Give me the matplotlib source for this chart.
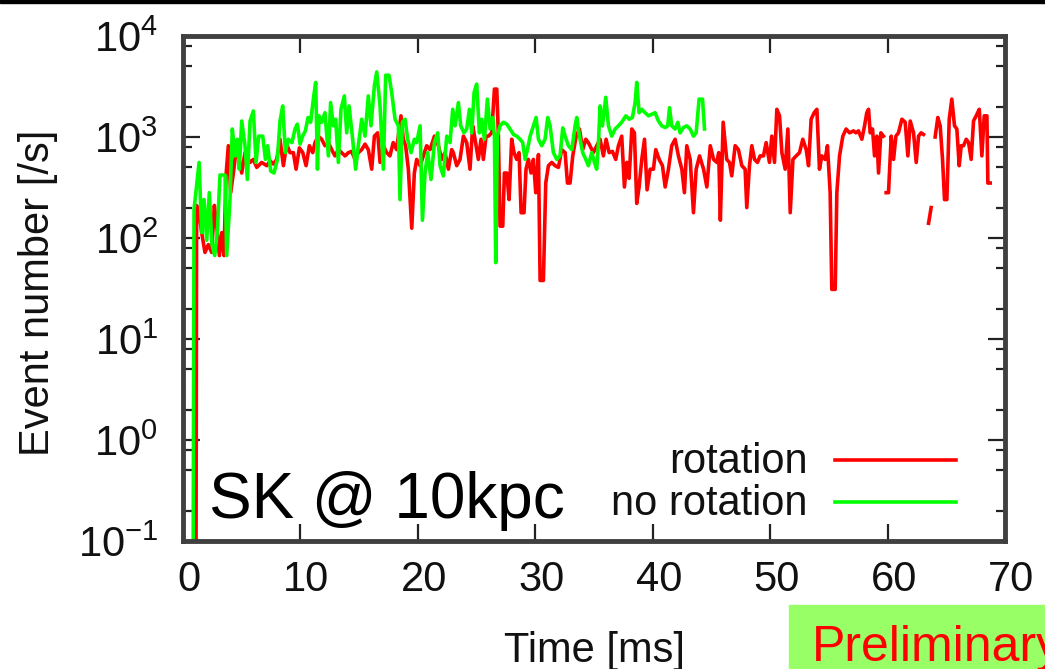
import matplotlib
matplotlib.use('Agg')
import matplotlib.pyplot as plt
import matplotlib.transforms as mtransforms
from matplotlib.patches import Rectangle
from matplotlib.ticker import LogLocator, NullFormatter

nan = float('nan')

# time [ms] / event number [/s]
t_rot = [1.1, 1.16, 1.39, 1.59, 1.87, 2.16, 2.44, 2.67, 2.87, 3.1, 3.3, 3.49, 3.66, 3.86, 4.06, 4.29,
         4.57, 5.0, 5.28, 5.71, 5.99, 6.28, 6.7, 7.13, 7.42, 7.7, 7.98, 8.26, 8.55, 8.83, 9.11, 9.4,
         9.63, 9.91, 10.2, 10.48, 10.76, 11.05, 11.24, 11.52, 11.81, 12.09, 12.38, 12.66, 12.94, 13.23,
         13.51, 13.8, 14.08, 14.36, 14.65, 14.93, 15.22, 15.5, 15.78, 16.07, 16.3, 16.58, 16.78, 17.06,
         17.34, 17.62, 17.9, 18.19, 18.56, 18.76, 18.96, 19.19, 19.48, 19.7, 19.9, 20.19, 20.47, 20.75,
         21.04, 21.41, 21.75, 22.03, 22.31, 22.6, 22.88, 23.02, 23.31, 23.59, 23.88, 24.16, 24.44, 24.67,
         24.87, 25.15, 25.38, 25.58, 25.81, 26.01, 26.29, 26.52, 26.72, 26.86, 27.0, 27.23, 27.37, 27.57,
         27.77, 27.99, 28.19, 28.42, 28.62, 28.79, 29.04, 29.21, 29.41, 29.64, 29.84, 30.04, 30.27, 30.41,
         30.69, 30.89, 31.12, 31.4, 31.69, 31.97, 32.25, 32.54, 32.74, 32.96, 33.19, 33.48, 33.76, 34.04,
         34.3, 34.52, 34.95, 35.23, 35.52, 35.8, 36.03, 36.29, 36.57, 36.85, 37.08, 37.36, 37.59, 37.79,
         37.99, 38.22, 38.44, 38.64, 38.84, 39.07, 39.3, 39.52, 39.78, 40.06, 40.26, 40.55, 40.83, 41.06,
         41.34, 41.62, 41.91, 42.19, 42.48, 42.7, 42.9, 43.19, 43.47, 43.7, 43.99, 44.33, 44.61, 44.9,
         45.18, 45.46, 45.62, 45.76, 46.0, 46.3, 46.54, 46.73, 47.02, 47.3, 47.59, 47.87, 48.01, 48.24,
         48.44, 48.67, 48.92, 49.15, 49.43, 49.66, 49.94, 50.14, 50.37, 50.57, 50.8, 51.0, 51.28, 51.51,
         51.71, 51.94, 52.22, 52.5, 52.78, 53.07, 53.27, 53.49, 53.75, 53.98, 54.2, 54.4, 54.68, 54.88,
         55.11, 55.25, 55.54, 55.68, 55.91, 56.19, 56.47, 56.76, 57.1, 57.3, 57.52, 57.81, 58.04, 58.23,
         58.38, 58.52, 58.72, 58.89, 59.09, 59.23, 59.43, 59.65, 59.76, 59.88, 60.08, 60.31, 60.51, 60.71,
         60.93, 61.22, 61.5, 61.73, 61.93, 62.21, 62.44, 62.64, 62.86, 63.06, 63.25, 63.49, 63.71, 63.85,
         64.05, 64.28, 64.48, 64.68, 64.85, 65.05, 65.25, 65.47, 65.7, 65.9, 66.1, 66.27, 66.47, 66.7,
         66.9, 67.12, 67.32, 67.61, 67.81, 68.03, 68.23, 68.46, 68.54, 68.74]
n_rot = [0.01, 210, 170, 113, 72, 86, 72, 210, 131, 67, 113, 67, 412, 820, 281, 440,
         820, 440, 700, 560, 600, 500, 560, 520, 580, 540, 600, 950, 520, 850, 700, 700,
         480, 780, 700, 520, 820, 700, 880, 1020, 950, 820, 880, 750, 650, 750,
         700, 650, 700, 720, 600, 700, 750, 850, 750, 480, 1020, 1100, 560, 820,
         700, 650, 880, 750, 1620, 950, 820, 480, 125, 440, 600, 520, 650, 820,
         750, 1020, 820, 600, 700, 480, 750, 700, 520, 600, 1020, 880, 480, 1290,
         950, 600, 950, 600, 1020, 1020, 1100, 2980, 2980, 1020, 131, 131, 440, 440,
         240, 950, 700, 600, 700, 178, 178, 480, 600, 440, 600, 281, 670, 38,
         38, 350, 520, 560, 520, 500, 750, 700, 350, 350, 650, 1020, 1200, 750,
         950, 880, 700, 820, 950, 650, 950, 700, 720, 600, 820, 1020, 320, 560,
         390, 1200, 1100, 220, 320, 600, 950, 300, 480, 480, 750, 600, 520, 320,
         480, 820, 950, 650, 480, 281, 820, 600, 178, 480, 650, 480, 320, 820,
         600, 560, 700, 150, 1400, 600, 560, 412, 820, 750, 520, 480, 200, 520,
         820, 600, 560, 650, 650, 880, 560, 1020, 560, 1880, 1620, 700, 480, 1200,
         178, 600, 650, 700, 950, 750, 520, 1500, 1740, 1880, 480, 650, 600, 820,
         281, 31, 31, 281, 650, 1020, 1200, 1100, 1150, 1100, 1150, 950, 1290, 1740,
         1880, 1100, 1200, 650, 1020, 440, 1100, 1020, nan, 281, 281, 1020, 600, 1020,
         1100, 1500, 1400, 650, 1440, 1100, 560, 1020, 1100, 1060, nan, 140, 200, nan,
         1000, 1560, 1290, 600, 240, 240, 1500, 2370, 1290, 1200, 520, 820, 820, 950,
         880, 600, 1440, 1680, 1880, 650, 1620, 1620, 350, 350]

t_norot = [0.85, 0.94, 1.37, 1.59, 1.79, 2.02, 2.24, 2.47, 2.7, 2.92, 3.15, 3.58, 3.72, 4.0, 4.2,
           4.43, 4.63, 4.8, 5.0, 5.28, 5.48, 5.71, 5.99, 6.22, 6.45, 6.79, 7.02, 7.21, 7.47, 7.75,
           8.04, 8.26, 8.49, 8.72, 8.97, 9.28, 9.54, 9.74, 9.97, 10.19, 10.42, 10.65, 10.87, 11.1,
           11.3, 11.45, 11.58, 11.81, 12.09, 12.38, 12.57, 12.8, 13.0, 13.23, 13.45, 13.74, 13.94,
           14.14, 14.42, 14.7, 14.93, 15.22, 15.5, 15.78, 16.01, 16.3, 16.5, 16.78, 17.06, 17.26,
           17.54, 17.77, 18.06, 18.34, 18.48, 18.68, 18.91, 19.13, 19.42, 19.7, 19.9, 20.19, 20.39,
           20.61, 20.84, 21.12, 21.41, 21.69, 21.89, 22.17, 22.46, 22.74, 22.97, 23.17, 23.45, 23.65,
           23.93, 24.16, 24.39, 24.59, 24.79, 25.01, 25.24, 25.44, 25.67, 25.92, 26.15, 26.38, 26.52,
           26.63, 26.77, 27.0, 27.28, 27.57, 27.85, 28.14, 28.42, 28.7, 28.93, 29.13, 29.33, 29.56,
           29.84, 30.07, 30.27, 30.55, 30.83, 31.06, 31.26, 31.54, 31.83, 32.11, 32.34, 32.54, 32.82,
           33.11, 33.39, 33.53, 33.76, 34.04, 34.3, 34.52, 34.81, 35.04, 35.23, 35.38, 35.52, 35.72,
           36.0, 36.23, 36.51, 36.8, 37.08, 37.36, 37.71, 37.99, 38.27, 38.5, 38.64, 38.84, 39.07,
           39.35, 39.64, 39.92, 40.2, 40.49, 40.77, 41.06, 41.28, 41.43, 41.62, 41.91, 42.14, 42.33,
           42.62, 42.9, 43.19, 43.47, 43.7, 43.95, 44.24, 44.41]
n_norot = [0.01, 192, 560, 113, 240, 95, 281, 86, 67, 113, 420, 420, 67, 240, 1200,
           650, 950, 480, 1440, 820, 380, 1440, 1810, 560, 1020, 1020, 600, 820, 460, 440,
           600, 1440, 2030, 700, 950, 880, 1200, 1340, 850, 1020, 1150, 1560, 1400, 2370,
           3470, 480, 1620, 1400, 1740, 650, 2190, 1290, 1500, 560, 1880, 2550, 1100,
           2030, 1020, 480, 820, 1500, 1020, 2550, 1290, 3240, 4410, 2030, 480, 4090,
           4090, 2760, 1500, 1290, 240, 1400, 1500, 950, 700, 950, 880, 1290, 150,
           440, 700, 380, 880, 1100, 520, 412, 1020, 880, 1880, 1290, 2190, 1290,
           1100, 1200, 1880, 1100, 2760, 3340, 1100, 1500, 950, 2370, 1200, 1560, 1020,
           57, 1020, 1290, 1400, 1340, 1200, 1060, 1020, 950, 880, 600, 750, 1020,
           1290, 1560, 950, 820, 950, 1560, 1290, 700, 600, 650, 1230, 1020, 820,
           750, 1290, 1560, 1020, 700, 600, 520, 700, 560, 480, 880, 2030, 1290,
           2470, 1290, 1020, 1200, 1290, 1400, 1620, 1500, 1560, 2190, 3470, 1740, 1880,
           1740, 1620, 1680, 1740, 1440, 1290, 1240, 1290, 1950, 1290, 1200, 1400, 1100,
           1240, 1290, 1200, 1020, 1100, 2370, 2370, 1200]

x_ticks = [0, 10, 20, 30, 40, 50, 60, 70]

plt.rcParams['font.family'] = 'Liberation Sans'
plt.rcParams['mathtext.default'] = 'regular'

W, H = 1045, 669
fig = plt.figure(figsize=(W / 100, H / 100), dpi=100)
ax = fig.add_axes([183 / W, 1 - 541 / H, 822 / W, 505 / H])

ax.plot(t_rot, n_rot, color='#ff0000', lw=2.6, label='rotation')
ax.plot(t_norot, n_norot, color='#00ff00', lw=2.6, label='no rotation')

ax.set_yscale('log')
ax.set_xlim(0, 70)
ax.set_ylim(0.1, 1e4)
ax.set_xticks(x_ticks)
ax.yaxis.set_major_locator(LogLocator(base=10, numticks=10))
ax.yaxis.set_minor_locator(LogLocator(base=10, subs=(2, 5, 8), numticks=20))
ax.yaxis.set_minor_formatter(NullFormatter())

for s in ax.spines.values():
    s.set_linewidth(3.5)
    s.set_color('#404040')
ax.tick_params(which='both', direction='in', top=True, right=True, color='#222222', width=1.6)
ax.tick_params(which='major', length=12, labelsize=30, labelcolor='#111111')
ax.tick_params(which='minor', length=6.5)
ax.tick_params(axis='x', pad=14)
ax.tick_params(axis='y', pad=18)

ax.set_xlabel('Time [ms]', fontsize=30, color='#111111')
ax.xaxis.label.set_va('baseline')
ax.xaxis.set_label_coords(0.5, -121 / 505)
ax.set_ylabel('Event number [/s]', fontsize=30, color='#111111')
ax.yaxis.label.set_va('center')
ax.yaxis.set_label_coords(-145 / 822, 0.491)

# gnuplot puts the x labels a bit right of the ticks
offset = mtransforms.ScaledTranslation(0.06, 0, fig.dpi_scale_trans)
for lab in ax.get_xticklabels():
    lab.set_transform(lab.get_transform() + offset)

ax.text(26 / 822, 23 / 505, 'SK @ 10kpc', fontsize=46, va='baseline', transform=ax.transAxes)

# key in gnuplot style: text right aligned, line sample on the right
ax.text((808 - 183) / 822, (541 - 473) / 505, 'rotation', fontsize=30, ha='right', va='baseline',
        color='#111111', transform=ax.transAxes)
ax.plot([(835 - 183) / 822, (956 - 183) / 822], [(541 - 460) / 505] * 2, color='#ff0000', lw=2.6,
        transform=ax.transAxes)
ax.text((808 - 183) / 822, (541 - 515) / 505, 'no rotation', fontsize=30, ha='right', va='baseline',
        color='#111111', transform=ax.transAxes)
ax.plot([(835 - 183) / 822, (956 - 183) / 822], [(541 - 502) / 505] * 2, color='#00ff00', lw=2.6,
        transform=ax.transAxes)

# black rule at the very top and the "Preliminary" stamp (runs off the right edge)
fig.patches.append(Rectangle((0, 1 - 3 / H), 1, 3 / H, transform=fig.transFigure, color='black'))
fig.patches.append(Rectangle((789 / W, 0), (W - 789) / W, (H - 605) / H, transform=fig.transFigure,
                             color='#99ff66'))
fig.text(812 / W, 1 - 661 / H, 'Preliminary', fontsize=36, color='#ff0000', va='baseline')

fig.savefig('out.png', dpi=100)
